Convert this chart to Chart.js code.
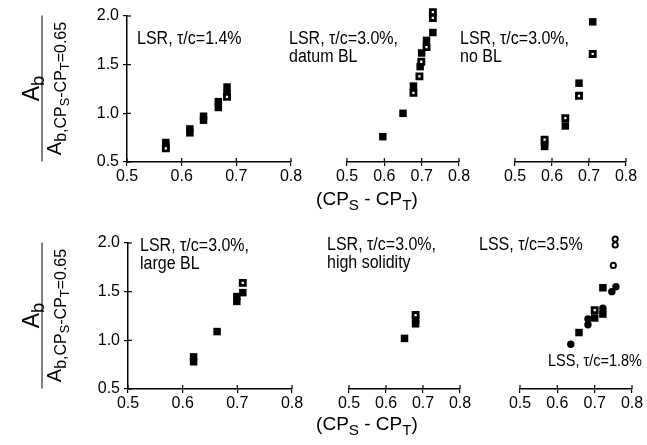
<!DOCTYPE html>
<html>
<head>
<meta charset="utf-8">
<script src="https://cdn.jsdelivr.net/npm/chart.js@4.4.1/dist/chart.umd.min.js"></script>
<style>
  body { margin: 0; background: #fff; }
  #wrap { position: relative; width: 647px; height: 445px; overflow: hidden; font-family: 'Liberation Sans', Arial, sans-serif; color: #000; }
  #wrap canvas { position: absolute; left: 0; top: 0; }
  .note { position: absolute; font-size: 16px; line-height: 16px; white-space: nowrap; transform: scaleY(1.15); transform-origin: 0 0; }
  .xlab { position: absolute; width: 200px; text-align: center; font-size: 19px; line-height: 20px; white-space: nowrap; }
  .ylab { position: absolute; width: 146px; transform: rotate(-90deg); text-align: center; white-space: nowrap; }
  .ylab .num { font-size: 23px; height: 22px; line-height: 22px; }
  .ylab .bar { border-top: 1.5px solid #000; }
  .ylab .den { font-size: 20px; height: 22px; line-height: 22px; }
  sub { font-size: 80%; vertical-align: -0.3em; line-height: 0; }
</style>
</head>
<body>
<div id="wrap">
  <canvas id="c1" width="647" height="445"></canvas>
  <canvas id="c2" width="647" height="445"></canvas>
  <canvas id="c3" width="647" height="445"></canvas>
  <canvas id="c4" width="647" height="445"></canvas>
  <canvas id="c5" width="647" height="445"></canvas>
  <canvas id="c6" width="647" height="445"></canvas>

  <div class="ylab" style="left:-31px; top:66px;">
    <div class="num">A<sub>b</sub></div>
    <div class="bar"></div>
    <div class="den">A<sub>b,CP<sub>S</sub>-CP<sub>T</sub>=0.65</sub></div>
  </div>
  <div class="ylab" style="left:-31px; top:293px;">
    <div class="num">A<sub>b</sub></div>
    <div class="bar"></div>
    <div class="den">A<sub>b,CP<sub>S</sub>-CP<sub>T</sub>=0.65</sub></div>
  </div>

  <div class="xlab" style="left:267px; top:189px;">(CP<sub>S</sub> - CP<sub>T</sub>)</div>
  <div class="xlab" style="left:267px; top:414px;">(CP<sub>S</sub> - CP<sub>T</sub>)</div>

  <div class="note" style="left:137px; top:29px;">LSR, τ/c=1.4%</div>
  <div class="note" style="left:289px; top:29px;">LSR, τ/c=3.0%,<br>datum BL</div>
  <div class="note" style="left:460px; top:29px;">LSR, τ/c=3.0%,<br>no BL</div>
  <div class="note" style="left:140px; top:236px;">LSR, τ/c=3.0%,<br>large BL</div>
  <div class="note" style="left:327px; top:235px;">LSR, τ/c=3.0%,<br>high solidity</div>
  <div class="note" style="left:479px; top:235px;">LSS, τ/c=3.5%</div>
  <div class="note" style="left:548px; top:351px; font-size:14.5px;">LSS, τ/c=1.8%</div>
</div>

<script>
// tick values shared by every panel
const xTicks = [0.5, 0.6, 0.7, 0.8];
const yTicks = [0.5, 1.0, 1.5, 2.0];

// LSR, t/c=1.4%
const p1FillX = [0.571, 0.571, 0.615, 0.615, 0.640, 0.640, 0.667, 0.667, 0.683, 0.683];
const p1FillY = [0.70, 0.66, 0.84, 0.80, 0.97, 0.93, 1.12, 1.06, 1.27, 1.20];
const p1OpenX = [0.571, 0.683];
const p1OpenY = [0.64, 1.17];

// LSR, t/c=3.0%, datum BL
const p2FillX = [0.596, 0.650, 0.678, 0.696, 0.700, 0.713, 0.730];
const p2FillY = [0.76, 1.00, 1.28, 1.48, 1.62, 1.75, 1.83];
const p2OpenX = [0.678, 0.694, 0.699, 0.713, 0.730, 0.730];
const p2OpenY = [1.21, 1.38, 1.53, 1.68, 1.98, 2.04];

// LSR, t/c=3.0%, no BL
const p3FillX = [0.580, 0.580, 0.636, 0.673, 0.710];
const p3FillY = [0.66, 0.69, 0.87, 1.31, 1.94];
const p3OpenX = [0.580, 0.636, 0.673, 0.710];
const p3OpenY = [0.73, 0.95, 1.18, 1.61];

// LSR, t/c=3.0%, large BL
const p4FillX = [0.620, 0.620, 0.663, 0.699, 0.699, 0.710];
const p4FillY = [0.78, 0.83, 1.09, 1.40, 1.45, 1.49];
const p4OpenX = [0.710];
const p4OpenY = [1.59];

// LSR, t/c=3.0%, high solidity
const p5FillX = [0.650, 0.680, 0.680];
const p5FillY = [1.02, 1.17, 1.21];
const p5OpenX = [0.680];
const p5OpenY = [1.26];

// LSS, t/c=3.5% (squares) and t/c=1.8% (circles)
const p6FillX = [0.658, 0.700, 0.722, 0.722];
const p6FillY = [1.08, 1.23, 1.54, 1.27];
const p6OpenX = [0.700];
const p6OpenY = [1.31];
const p6DotX = [0.636, 0.682, 0.682, 0.722, 0.746, 0.757];
const p6DotY = [0.96, 1.16, 1.22, 1.33, 1.50, 1.55];
const p6RingX = [0.750, 0.755, 0.755];
const p6RingY = [1.77, 1.98, 2.04];

function pts(xs, ys) {
  return xs.map(function (x, i) { return { x: x, y: ys[i] }; });
}

function filledSq(xs, ys) {
  return { data: pts(xs, ys), pointStyle: 'rect', pointRadius: 5.3, backgroundColor: '#000', borderColor: '#000', borderWidth: 0, clip: false };
}
function openSq(xs, ys) {
  return { data: pts(xs, ys), pointStyle: 'rect', pointRadius: 3.6, backgroundColor: '#fff', borderColor: '#000', borderWidth: 2.8, clip: false };
}
function filledDot(xs, ys) {
  return { data: pts(xs, ys), pointStyle: 'circle', pointRadius: 3.7, backgroundColor: '#000', borderColor: '#000', borderWidth: 0, clip: false };
}
function openDot(xs, ys) {
  return { data: pts(xs, ys), pointStyle: 'circle', pointRadius: 2.6, backgroundColor: '#fff', borderColor: '#000', borderWidth: 1.9, clip: false };
}

const tickFont = { family: "'Liberation Sans', Arial, sans-serif", size: 16 };

// small marks pointing into the plot, so ticks cross the axis line
const innerTicks = {
  id: 'innerTicks',
  afterDraw: function (chart) {
    const ctx = chart.ctx;
    const xs = chart.scales.x, ys = chart.scales.y;
    ctx.save();
    ctx.strokeStyle = '#000';
    ctx.lineWidth = 1.2;
    xs.ticks.forEach(function (t, i) {
      const px = xs.getPixelForTick(i);
      ctx.beginPath(); ctx.moveTo(px, xs.top); ctx.lineTo(px, xs.top - 4); ctx.stroke();
    });
    if (ys.options.display) {
      ys.ticks.forEach(function (t, i) {
        const py = ys.getPixelForTick(i);
        ctx.beginPath(); ctx.moveTo(ys.right, py); ctx.lineTo(ys.right + 4, py); ctx.stroke();
      });
    }
    ctx.restore();
  }
};

function panel(id, pad, showY, sets) {
  new Chart(document.getElementById(id), {
    type: 'scatter',
    data: { datasets: sets },
    options: {
      responsive: false,
      animation: false,
      events: [],
      layout: { padding: pad },
      plugins: { legend: { display: false }, tooltip: { enabled: false } },
      scales: {
        x: {
          type: 'linear', min: 0.5, max: 0.8,
          afterBuildTicks: function (s) { s.ticks = xTicks.map(function (v) { return { value: v }; }); },
          afterFit: function (s) { s.height = 30; },
          ticks: { font: tickFont, color: '#000', padding: 1, maxRotation: 0, autoSkip: false,
                   callback: function (v) { return Number(v).toFixed(1); } },
          grid: { drawOnChartArea: false, tickLength: 4, color: '#000', lineWidth: 1.2 },
          border: { color: '#000', width: 1.5 }
        },
        y: {
          display: showY, type: 'linear', min: 0.5, max: 2.0,
          afterBuildTicks: function (s) { s.ticks = yTicks.map(function (v) { return { value: v }; }); },
          afterFit: function (s) { s.width = 50; },
          ticks: { font: tickFont, color: '#000', padding: 4, autoSkip: false,
                   callback: function (v) { return Number(v).toFixed(1); } },
          grid: { drawOnChartArea: false, tickLength: 4, color: '#000', lineWidth: 1.2 },
          border: { color: '#000', width: 1.5 }
        }
      }
    },
    plugins: [innerTicks]
  });
}

panel('c1', { left: 77, right: 356, top: 16, bottom: 253 }, true,
  [openSq(p1OpenX, p1OpenY), filledSq(p1FillX, p1FillY)]);
panel('c2', { left: 297, right: 188, top: 16, bottom: 253 }, false,
  [openSq(p2OpenX, p2OpenY), filledSq(p2FillX, p2FillY)]);
panel('c3', { left: 465, right: 21, top: 16, bottom: 253 }, false,
  [openSq(p3OpenX, p3OpenY), filledSq(p3FillX, p3FillY)]);
panel('c4', { left: 78, right: 355, top: 243, bottom: 26 }, true,
  [openSq(p4OpenX, p4OpenY), filledSq(p4FillX, p4FillY)]);
panel('c5', { left: 299, right: 187, top: 243, bottom: 26 }, false,
  [openSq(p5OpenX, p5OpenY), filledSq(p5FillX, p5FillY)]);
panel('c6', { left: 470, right: 15, top: 243, bottom: 26 }, false,
  [openSq(p6OpenX, p6OpenY), openDot(p6RingX, p6RingY), filledSq(p6FillX, p6FillY), filledDot(p6DotX, p6DotY)]);
</script>
</body>
</html>
